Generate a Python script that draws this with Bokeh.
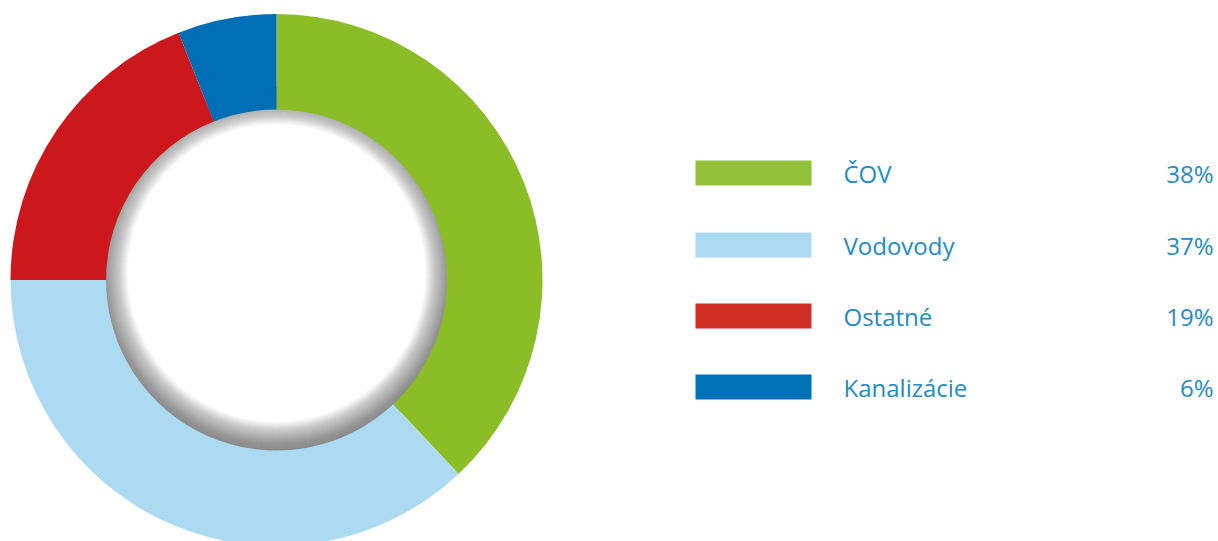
import math
from bokeh.plotting import figure
from bokeh.models import Range1d, ColumnDataSource
from bokeh.core.properties import value
from bokeh.embed import file_html
from bokeh.resources import INLINE

# ---- data ----
categories = ["ČOV", "Vodovody", "Ostatné", "Kanalizácie"]
shares = [38, 37, 19, 6]
pct_labels = ["38%", "37%", "19%", "6%"]
pie_colors = ["#8BBD26", "#ACDAF1", "#CC171D", "#006EB4"]
legend_colors = ["#93C23A", "#ACDAF1", "#D02D24", "#0073B8"]

W, H = 1218, 541
p = figure(width=W, height=H, output_backend="svg", toolbar_location=None,
           x_range=Range1d(0, W), y_range=Range1d(0, H), min_border=0)
p.axis.visible = False
p.grid.visible = False
p.outline_line_color = None
p.background_fill_color = "white"
p.border_fill_color = "white"

cx, cy = 276, H - 279.5
r_out, r_in = 266, 170.5

# soft inner shadow of the hole (drawn first; the ring covers any overflow)
shift = 7
n = 58
for i in range(n):
    rho = r_in - 22 + (29.0 * i) / (n - 1)
    p.annulus(x=[cx], y=[cy + shift], inner_radius=rho, outer_radius=r_in + 2 * shift + 2,
              fill_color="#555555", fill_alpha=0.02, line_color=None)

total = sum(shares)
starts, ends = [], []
acc = 0.0
for s in shares:
    a0 = math.pi / 2 - 2 * math.pi * acc / total
    acc += s
    a1 = math.pi / 2 - 2 * math.pi * acc / total
    starts.append(a0)
    ends.append(a1)

src = ColumnDataSource(dict(x=[cx] * len(shares), y=[cy] * len(shares),
                            start=starts, end=ends, color=pie_colors))
p.annular_wedge(x="x", y="y", inner_radius=r_in, outer_radius=r_out,
                start_angle="start", end_angle="end", direction="clock",
                fill_color="color", line_color=None, source=src)

# legend
row_y = [172.5, 244.5, 315.5, 386.5]
ys = [H - v for v in row_y]
lsrc = ColumnDataSource(dict(x=[753] * 4, y=ys, color=legend_colors,
                             label=categories, pct=pct_labels))
p.rect(x="x", y="y", width=116, height=25, fill_color="color", line_color=None, source=lsrc)
p.text(x=843, y="y", text="label", source=lsrc, text_font=value("Open Sans"),
       text_font_size="24px", text_color="#1E8BC9", text_baseline="middle", text_align="left")
p.text(x=1213, y="y", text="pct", source=lsrc, text_font=value("Open Sans"),
       text_font_size="24px", text_color="#1E8BC9", text_baseline="middle", text_align="right")

open("out.html", "w").write(file_html(p, INLINE))
